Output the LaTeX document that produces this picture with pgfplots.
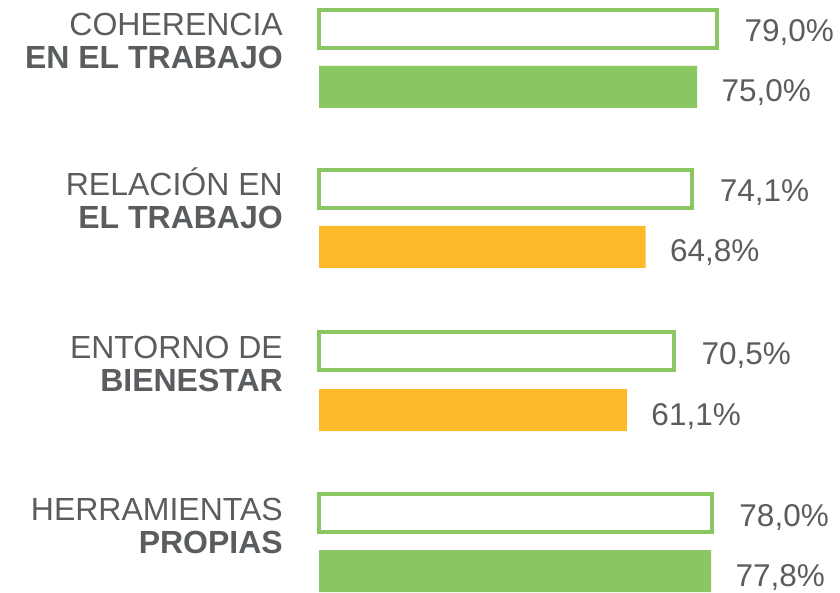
\documentclass[border=0pt]{standalone}
\usepackage{fontspec}
\setmainfont{Liberation Sans}
\usepackage{pgfplots}
\pgfplotsset{compat=1.18}

\definecolor{vgreen}{HTML}{8AC662}
\definecolor{vorange}{HTML}{FDBB2B}
\definecolor{tgray}{HTML}{5A5D5F}

\begin{document}
\begin{tikzpicture}
\begin{axis}[
  width=840pt, height=592pt, scale only axis,
  xmin=-63.29, xmax=103.37,
  ymin=-592, ymax=0,
  hide axis, clip=false,
  nodes near coords,
  point meta=explicit symbolic,
  every node near coord/.append style={font=\fontsize{31.5}{38}\selectfont, text=tgray, anchor=base west},
]
% white bars with green frame (reference)
\addplot[xbar, bar shift=0pt, bar width=38, draw=vgreen, line width=4pt, fill=white,
  every node near coord/.append style={xshift=22pt, yshift=-13pt}]
  coordinates {
    (79.0,-29)  [{79,0\%}]
    (74.1,-189) [{74,1\%}]
    (70.5,-351) [{70,5\%}]
    (78.0,-513) [{78,0\%}]
  };
% green filled bars
\addplot[xbar, bar shift=0pt, bar width=42, draw=none, fill=vgreen,
  every node near coord/.append style={xshift=21pt, yshift=-15pt}]
  coordinates {
    (75.0,-87)  [{75,0\%}]
    (77.8,-571) [{77,8\%}]
  };
% orange filled bars
\addplot[xbar, bar shift=0pt, bar width=42, draw=none, fill=vorange,
  every node near coord/.append style={xshift=21pt, yshift=-15pt}]
  coordinates {
    (64.8,-247) [{64,8\%}]
    (61.1,-410) [{61,1\%}]
  };
% category labels
\begin{scope}[every node/.style={anchor=base east, text=tgray, inner sep=0pt, font=\fontsize{32}{38}\selectfont}]
\node at (axis cs:-7.14,-36)  {COHERENCIA};
\node at (axis cs:-7.14,-69)  {\bfseries EN EL TRABAJO};
\node at (axis cs:-7.14,-196) {RELACIÓN EN};
\node at (axis cs:-7.14,-229) {\bfseries EL TRABAJO};
\node at (axis cs:-7.14,-358) {ENTORNO DE};
\node at (axis cs:-7.14,-391) {\bfseries BIENESTAR};
\node at (axis cs:-7.14,-520) {HERRAMIENTAS};
\node at (axis cs:-7.14,-553) {\bfseries PROPIAS};
\end{scope}
\end{axis}
\pgfresetboundingbox
\path (current axis.south west) rectangle (current axis.north east);
\end{tikzpicture}
\end{document}
